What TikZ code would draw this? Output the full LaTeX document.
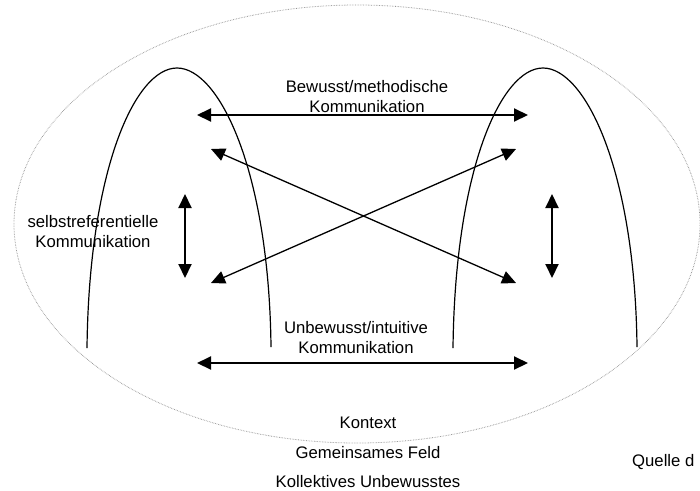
\documentclass[tikz,border=0pt]{standalone}
\usepackage{fontspec}
\setmainfont{Liberation Sans}
\usepackage{tikz}
\usetikzlibrary{arrows.meta}
\tikzstyle{arch}=[draw, line width=1.2pt, black]
\tikzstyle{context}=[draw=gray!85, line width=0.8pt, dash pattern=on 0.6pt off 1pt]
\tikzstyle{edge} = [draw, line width=2pt, {Triangle[length=14pt,width=13pt]}-{Triangle[length=14pt,width=13pt]}]
\tikzstyle{cross edge} = [draw, line width=1.3pt, {Triangle[length=14pt,width=13pt]}-{Triangle[length=14pt,width=13pt]}]
\tikzstyle{note} = [draw=none, align=center, inner sep=0pt, font=\fontsize{16.7}{20}\selectfont]

\begin{document}
\begin{tikzpicture}[x=1pt, y=-1pt]
	\useasboundingbox (0,0) rectangle (700,490);
	% First we draw the context and the two persons
	\draw[context] (357,224) ellipse [x radius=343pt, y radius=219pt];
	\foreach \shift in {0,366}
	\draw[arch, xshift=\shift pt] (87,348) .. controls (89,170) and (135,68) .. (177,68)
		.. controls (219,68) and (269,170) .. (271,347);
	
	% Ends of the arrows
	\foreach \pos/\label in {
		{(197,115)/tl}, {(528,115)/tr},
		{(197,363)/bl}, {(528,363)/br},
		{(211,149)/cul}, {(211,283)/cll},
		{(516,149)/cur}, {(516,283)/clr},
		{(185,194)/vlt}, {(185,278)/vlb},
		{(552,194)/vrt}, {(552,278)/vrb}}
	\path \pos coordinate (\label);
	
	% Connect them
	\foreach \source/ \dest in {tl/tr, bl/br, vlt/vlb, vrt/vrb}
	\path[edge] (\source) -- (\dest);
	\foreach \source/ \dest in {cul/clr, cll/cur}
	\path[cross edge] (\source) -- (\dest);
	
	% Labels
	\node[note] (bewusst) at (367,97) {Bewusst/methodische\\Kommunikation};
	\node[note] (selbst) at (93,232) {selbstreferentielle\\Kommunikation};
	\node[note] (unbewusst) at (356,338) {Unbewusst/intuitive\\Kommunikation};
	\node[note] (kontext) at (368,423) {Kontext};
	\node[note] (feld) at (368,453) {Gemeinsames Feld};
	\node[note] (kollektiv) at (368,482) {Kollektives Unbewusstes};
	\node[note, anchor=west] (quelle) at (632,462) {Quelle d};

\end{tikzpicture}
\end{document}
